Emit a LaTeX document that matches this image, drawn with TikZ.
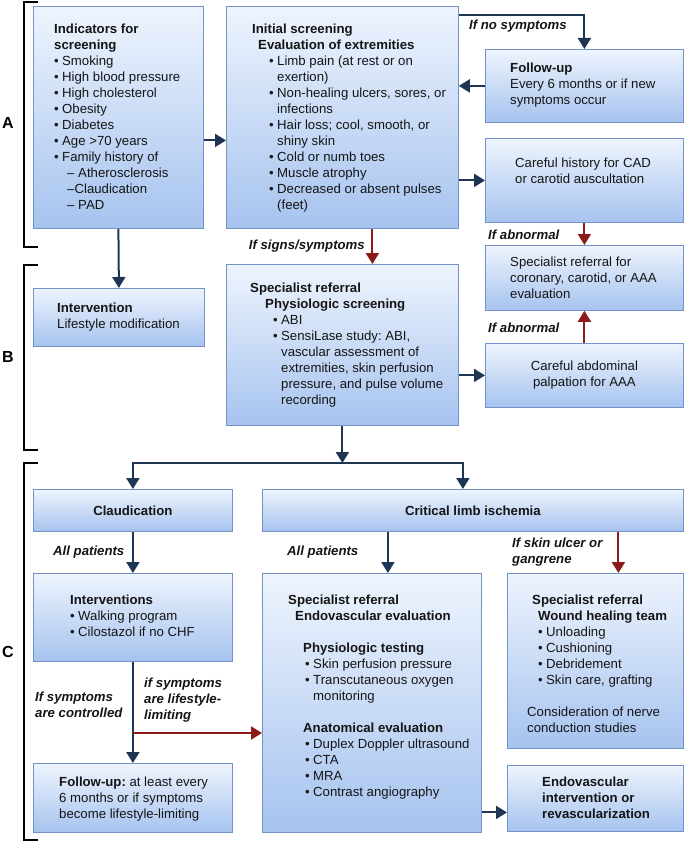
\documentclass[tikz,border=0pt]{standalone}
\usepackage{fontspec}
\setmainfont{Liberation Sans}
\usetikzlibrary{arrows.meta}
\frenchspacing

\definecolor{navy}{HTML}{1F3554}
\definecolor{darkred}{HTML}{8B1A1A}
\definecolor{boxline}{HTML}{7392C8}
\definecolor{boxtop}{HTML}{EEF4FD}
\definecolor{boxbot}{HTML}{A6C3EF}
\definecolor{ink}{HTML}{151515}

\newcommand{\bul}{\makebox[8pt][l]{\textbullet}}
\newcommand{\bulc}{\hspace*{8pt}}

\begin{document}
\begin{tikzpicture}[x=1pt,y=-1pt,
  box/.style={draw=boxline,line width=0.8pt,top color=boxtop,bottom color=boxbot,anchor=north west,inner sep=0pt},
  txt/.style={anchor=north west,align=left,inner sep=0pt,text=ink,font=\fontsize{13.2}{16}\selectfont},
  lbl/.style={txt,font=\fontsize{13.2}{16}\selectfont\bfseries\itshape},
  arr/.style={draw=navy,line width=2pt,-{Triangle[width=13pt,length=11pt]}},
  rarr/.style={arr,draw=darkred},
  brk/.style={draw=black,line width=1.5pt},
  tag/.style={font=\fontsize{16}{16}\selectfont\bfseries,inner sep=0pt}]
\useasboundingbox (0,0) rectangle (685,843);

% section A
\node[box,minimum width=170pt,minimum height=222pt] (ind) at (33,6) {};
\node[box,minimum width=232pt,minimum height=222pt] (init) at (226,6) {};
\node[box,minimum width=198pt,minimum height=73pt] (fu1) at (485,49) {};
\node[box,minimum width=198pt,minimum height=84pt] (cad) at (485,138) {};
% section B
\node[box,minimum width=198pt,minimum height=65pt] (cor) at (485,245) {};
\node[box,minimum width=198pt,minimum height=64pt] (abd) at (485,343) {};
\node[box,minimum width=171pt,minimum height=58pt] (int) at (33,288) {};
\node[box,minimum width=232pt,minimum height=161pt] (phys) at (226,264) {};
% section C
\node[box,minimum width=199pt,minimum height=42pt] (claud) at (33,489) {};
\node[box,minimum width=421pt,minimum height=42pt] (cli) at (262,489) {};
\node[box,minimum width=199pt,minimum height=88pt] (intv) at (33,573) {};
\node[box,minimum width=199pt,minimum height=69pt] (fu2) at (33,763) {};
\node[box,minimum width=219pt,minimum height=259pt] (endo) at (262,573) {};
\node[box,minimum width=176pt,minimum height=175pt] (wound) at (507,573) {};
\node[box,minimum width=176pt,minimum height=66pt] (evi) at (507,765) {};

% box texts
\node[txt] (indtxt) at (54,24) {\textbf{Indicators for}\\ \textbf{screening}\\
  \bul Smoking\\ \bul High blood pressure\\ \bul High cholesterol\\ \bul Obesity\\
  \bul Diabetes\\ \bul Age >70 years\\ \bul Family history of\\
  \hspace*{13pt}\textendash\ Atherosclerosis\\ \hspace*{13pt}\textendash Claudication\\
  \hspace*{13pt}\textendash\ PAD};
\node[txt] (inittxt) at (252,24) {\textbf{Initial screening}\\
  \hspace*{6pt}\textbf{Evaluation of extremities}\\
  \hspace*{17pt}\bul Limb pain (at rest or on\\ \hspace*{17pt}\bulc exertion)\\
  \hspace*{17pt}\bul Non-healing ulcers, sores, or\\ \hspace*{17pt}\bulc infections\\
  \hspace*{17pt}\bul Hair loss; cool, smooth, or\\ \hspace*{17pt}\bulc shiny skin\\
  \hspace*{17pt}\bul Cold or numb toes\\ \hspace*{17pt}\bul Muscle atrophy\\
  \hspace*{17pt}\bul Decreased or absent pulses\\ \hspace*{17pt}\bulc (feet)};
\node[txt] (fu1txt) at (510,63) {\textbf{Follow-up}\\ Every 6 months or if new\\ symptoms occur};
\node[txt] (cadtxt) at (515,158) {Careful history for CAD\\ or carotid auscultation};
\node[txt] (cortxt) at (510,257) {Specialist referral for\\ coronary, carotid, or AAA\\ evaluation};
\node[txt,anchor=center,align=center] (abdtxt) at (abd.center) {Careful abdominal\\ palpation for AAA};
\node[txt] (inttxt) at (57,303) {\textbf{Intervention}\\ Lifestyle modification};
\node[txt] (phystxt) at (250,283) {\textbf{Specialist referral}\\
  \hspace*{15pt}\textbf{Physiologic screening}\\
  \hspace*{23pt}\bul ABI\\
  \hspace*{23pt}\bul SensiLase study: ABI,\\
  \hspace*{23pt}\bulc vascular assessment of\\
  \hspace*{23pt}\bulc extremities, skin perfusion\\
  \hspace*{23pt}\bulc pressure, and pulse volume\\
  \hspace*{23pt}\bulc recording};
\node[txt,anchor=center] (claudtxt) at (claud.center) {\bfseries Claudication};
\node[txt,anchor=center] (clitxt) at (cli.center) {\bfseries Critical limb ischemia};
\node[txt] (intvtxt) at (70,595) {\textbf{Interventions}\\ \bul Walking program\\ \bul Cilostazol if no CHF};
\node[txt] (fu2txt) at (59,777) {\textbf{Follow-up:} at least every\\ 6 months or if symptoms\\ become lifestyle-limiting};
\node[txt] (endotxt) at (288,595) {\textbf{Specialist referral}\\
  \hspace*{7pt}\textbf{Endovascular evaluation}\\[16pt]
  \hspace*{15pt}\textbf{Physiologic testing}\\
  \hspace*{17pt}\bul Skin perfusion pressure\\
  \hspace*{17pt}\bul Transcutaneous oxygen\\
  \hspace*{17pt}\bulc monitoring\\[16pt]
  \hspace*{15pt}\textbf{Anatomical evaluation}\\
  \hspace*{17pt}\bul Duplex Doppler ultrasound\\
  \hspace*{17pt}\bul CTA\\ \hspace*{17pt}\bul MRA\\
  \hspace*{17pt}\bul Contrast angiography};
\node[txt] (woundtxt) at (527,595) {\hspace*{5pt}\textbf{Specialist referral}\\
  \hspace*{11pt}\textbf{Wound healing team}\\
  \hspace*{11pt}\bul Unloading\\ \hspace*{11pt}\bul Cushioning\\
  \hspace*{11pt}\bul Debridement\\ \hspace*{11pt}\bul Skin care, grafting\\[16pt]
  Consideration of nerve\\ conduction studies};
\node[txt] (evitxt) at (542,777) {\bfseries Endovascular\\ \bfseries intervention or\\ \bfseries revascularization};

% connector labels
\node[lbl] (nosym) at (469,20) {If no symptoms};
\node[lbl,anchor=north east] (signs) at (365,240) {If signs/symptoms};
\node[lbl] (abn1) at (488,230) {If abnormal};
\node[lbl] (abn2) at (488,323) {If abnormal};
\node[lbl] (allp1) at (53,546) {All patients};
\node[lbl] (allp2) at (287,546) {All patients};
\node[lbl] (skin) at (512,538) {If skin ulcer or\\ gangrene};
\node[lbl] (ctrl) at (35,692) {If symptoms\\ are controlled};
\node[lbl] (llim) at (144,678) {if symptoms\\ are lifestyle-\\ limiting};

% connectors
\coordinate (split) at (phys.south |- 0,463);
\coordinate (lim) at (intv.south |- 0,733);
\draw[arr] ([yshift=-23pt]ind.east) -- ([yshift=-23pt]init.west);
\draw[arr] ([yshift=-9pt]init.north east) -| (fu1.north);
\draw[arr] (fu1.west) -- (fu1.west -| init.east);
\draw[arr] (cad.west -| init.east) -- (cad.west);
\draw[rarr] (cad.south) -- (cor.north);
\draw[rarr] (abd.north) -- (cor.south);
\draw[arr] (abd.west -| phys.east) -- (abd.west);
\draw[rarr] ([xshift=30pt]init.south) -- ([xshift=30pt]phys.north);
\draw[arr] (ind.south) -- (int.north);
\draw[arr] (phys.south) -- (split);
\draw[arr] (split) -| (claud.north);
\draw[arr] (split) -| ([xshift=-10pt]cli.north);
\draw[arr] (claud.south) -- (intv.north);
\draw[arr] ([xshift=16pt]endo.north |- cli.south) -- ([xshift=16pt]endo.north);
\draw[rarr] ([xshift=23pt]wound.north |- cli.south) -- ([xshift=23pt]wound.north);
\draw[arr] (intv.south) -- (fu2.north);
\draw[rarr] (lim) -- (lim -| endo.west);
\draw[arr] ([yshift=-14pt]evi.west -| endo.east) -- ([yshift=-14pt]evi.west);

% brackets
\draw[brk] (38,2) -- (24,2) -- (24,247) -- (38,247);
\draw[brk] (38,265) -- (24,265) -- (24,450) -- (38,450);
\draw[brk] (38,463) -- (24,463) -- (24,840) -- (38,840);
\node[tag] (tagA) at (8,123) {A};
\node[tag] (tagB) at (8,357) {B};
\node[tag] (tagC) at (8,652) {C};
\end{tikzpicture}
\end{document}
